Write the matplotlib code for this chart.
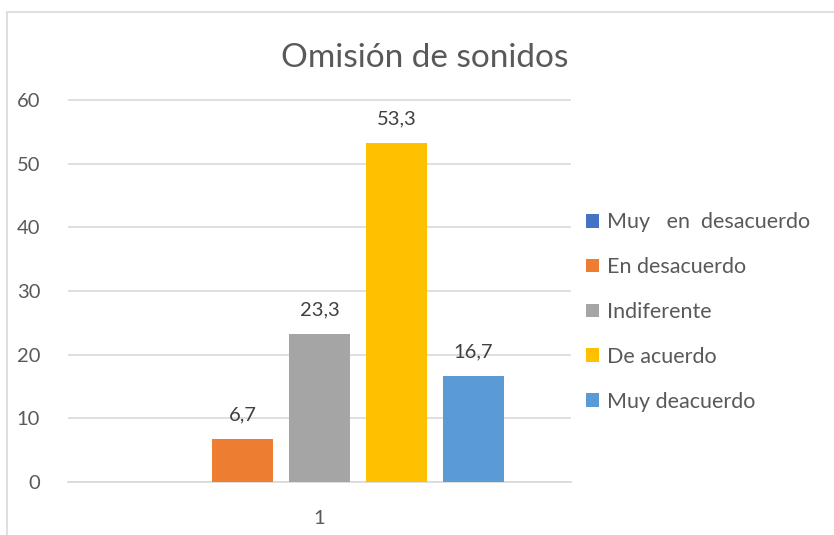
import numpy as np
import matplotlib.pyplot as plt
from matplotlib.patches import Rectangle

plt.rcParams['font.family'] = ['Lato', 'DejaVu Sans']

categoria = ['1']
series = ['Muy   en  desacuerdo', 'En desacuerdo', 'Indiferente', 'De acuerdo', 'Muy deacuerdo']
valores = [0, 6.7, 23.3, 53.3, 16.7]
etiquetas = ['', '6,7', '23,3', '53,3', '16,7']
colores = ['#4472C4', '#ED7D31', '#A5A5A5', '#FFC000', '#5B9BD5']

fig = plt.figure(figsize=(8.34, 5.35), dpi=100)
ax = fig.add_axes([68/834, 1-482/535, 503/834, 382/535*66/60])

# chart border like excel
fig.patches.append(Rectangle((7/834, -0.1), 1.2, 1-12/535+0.1, transform=fig.transFigure,
                             fill=False, edgecolor='#D9D9D9', linewidth=1.2))

ancho = 0.121
paso = 0.153
for i, (s, v, c) in enumerate(zip(series, valores, colores)):
    x = (i - 2) * paso
    ax.bar(x, v, width=ancho, color=c, label=s, zorder=3)
    if etiquetas[i]:
        ax.text(x, v + 3.8, etiquetas[i], ha='center', va='center', fontsize=14.5, color='#404040')

ax.set_xlim(-0.5, 0.5)
ax.set_ylim(0, 66)
ax.set_yticks(range(0, 61, 10))
ax.set_xticks([0])
ax.set_xticklabels(categoria)
ax.tick_params(axis='both', length=0, labelsize=14.5, labelcolor='#595959')
ax.tick_params(axis='y', pad=20)
ax.tick_params(axis='x', pad=20)
ax.grid(axis='y', color='#D9D9D9', linewidth=1.2, zorder=0)
for sp in ['top', 'right', 'left']:
    ax.spines[sp].set_visible(False)
ax.spines['bottom'].set_color('#D9D9D9')
ax.spines['bottom'].set_linewidth(1.2)

fig.text(425/834, 1-58/535, 'Omisión de sonidos', ha='center', va='center',
         fontsize=24, color='#595959')

leg = fig.legend(loc='center left', bbox_to_anchor=(567/834, 1-312/535), frameon=False,
                 fontsize=15.5, labelspacing=1.15, handlelength=0.6, handleheight=0.6,
                 handletextpad=0.35)
for t in leg.get_texts():
    t.set_color('#595959')

fig.savefig('out.png', dpi=100)
